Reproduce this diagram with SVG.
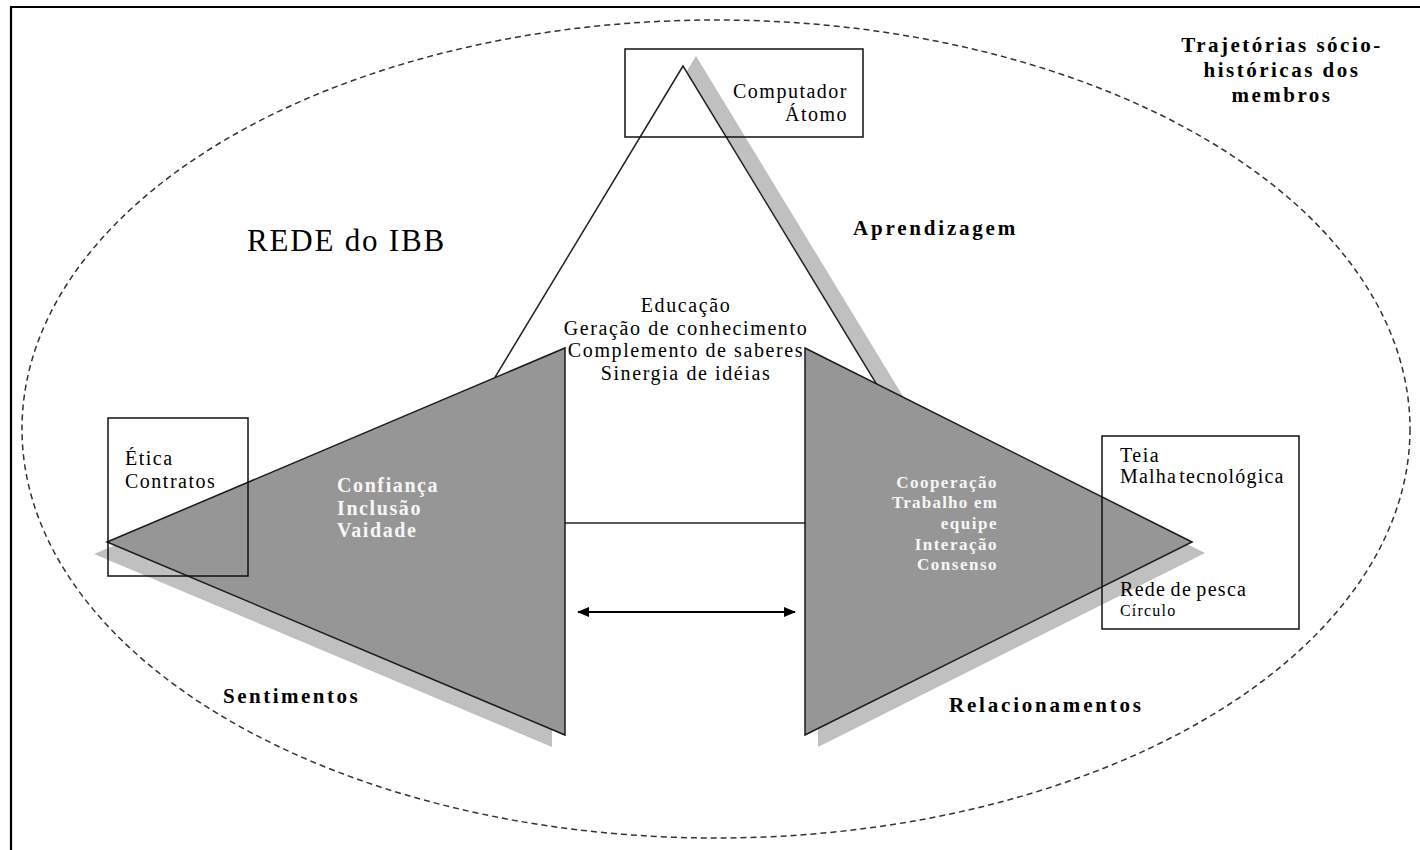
<svg xmlns="http://www.w3.org/2000/svg" width="1420" height="850" viewBox="0 0 1420 850">
<defs>
<style>
.t{font-family:"Liberation Serif","Times New Roman",serif;font-size:20px;letter-spacing:1.5px;fill:#000}
.b{font-family:"Liberation Serif","Times New Roman",serif;font-weight:bold;font-size:21px;letter-spacing:2.8px;fill:#000}
.w{font-family:"Liberation Serif","Times New Roman",serif;font-weight:bold;fill:#f6f6f6}
.box{fill:none;stroke:#111;stroke-width:1.5}
.gray{fill:#969696;stroke:#1a1a1a;stroke-width:1.5;stroke-linejoin:miter}
.shadow{fill:#c0c0c0;stroke:none}
</style>
<marker id="ah" viewBox="0 0 12 10" refX="11" refY="5" markerWidth="12" markerHeight="10" markerUnits="userSpaceOnUse" orient="auto-start-reverse">
<path d="M0,0 L12,5 L0,10 z" fill="#000"/>
</marker>
</defs>
<rect x="0" y="0" width="1420" height="850" fill="#fff"/>
<path id="frame" d="M11,852 V7 H1422" fill="none" stroke="#000" stroke-width="2.2"/>
<ellipse id="boundary" cx="716" cy="429" rx="694" ry="409" fill="none" stroke="#333" stroke-width="1.5" stroke-dasharray="6 4"/>

<g id="learning-triangle">
<polygon class="shadow" points="696,56 420,513 974,513"/>
<polygon points="683,66 407,523 961,523" fill="#fff" stroke="#222" stroke-width="1.5"/>
</g>

<g id="feelings-triangle">
<polygon class="shadow" points="94,554 552,360 552,747"/>
<polygon class="gray" points="107,542 565,348 565,735"/>
</g>

<g id="relations-triangle">
<polygon class="shadow" points="1205,553 818,359 818,747"/>
<polygon class="gray" points="1192,542 805,348 805,735"/>
</g>

<g id="connectors">
<line x1="578" y1="612" x2="795" y2="612" stroke="#000" stroke-width="2" marker-start="url(#ah)" marker-end="url(#ah)"/>
</g>

<g id="computador-box">
<rect class="box" x="625" y="49" width="238" height="88"/>
<text class="t" x="848" y="98" text-anchor="end">Computador</text>
<text class="t" x="848" y="121" text-anchor="end">Átomo</text>
</g>

<g id="etica-box">
<rect class="box" x="108" y="418" width="140" height="158"/>
<text class="t" x="125" y="465">Ética</text>
<text class="t" x="125" y="488">Contratos</text>
</g>

<g id="teia-box">
<rect class="box" x="1102" y="436" width="197" height="193"/>
<text class="t" x="1120" y="462">Teia</text>
<text class="t" x="1120" y="483" style="letter-spacing:1.2px;word-spacing:-4px">Malha tecnológica</text>
<text class="t" x="1120" y="596" style="letter-spacing:1.3px;word-spacing:-2px">Rede de pesca</text>
<text class="t" x="1120" y="616" style="font-size:16px;letter-spacing:1.2px">Círculo</text>
</g>

<g id="learning-items">
<text class="t" x="686" y="312" text-anchor="middle" style="letter-spacing:1.6px">Educação</text>
<text class="t" x="686" y="335" text-anchor="middle" style="letter-spacing:1.6px">Geração de conhecimento</text>
<text class="t" x="686" y="357" text-anchor="middle" style="letter-spacing:1.6px">Complemento de saberes</text>
<text class="t" x="686" y="380" text-anchor="middle" style="letter-spacing:1.6px">Sinergia de idéias</text>
</g>

<g id="feelings-items">
<text class="w" x="337" y="492" style="font-size:20px;letter-spacing:1.6px">Confiança</text>
<text class="w" x="337" y="515" style="font-size:20px;letter-spacing:1.6px">Inclusão</text>
<text class="w" x="337" y="537" style="font-size:20px;letter-spacing:1.6px">Vaidade</text>
</g>

<g id="relations-items">
<text class="w" x="998" y="488" text-anchor="end" style="font-size:17px;letter-spacing:1.5px">Cooperação</text>
<text class="w" x="998" y="508" text-anchor="end" style="font-size:17px;letter-spacing:1.2px">Trabalho em</text>
<text class="w" x="998" y="529" text-anchor="end" style="font-size:17px;letter-spacing:1.5px">equipe</text>
<text class="w" x="998" y="550" text-anchor="end" style="font-size:17px;letter-spacing:1.5px">Interação</text>
<text class="w" x="998" y="570" text-anchor="end" style="font-size:17px;letter-spacing:1.5px">Consenso</text>
</g>

<g id="labels">
<text x="247" y="251" style="font-family:'Liberation Serif','Times New Roman',serif;font-size:31px;letter-spacing:1.8px;fill:#000">REDE do IBB</text>
<text class="b" x="853" y="235">Aprendizagem</text>
<text class="b" x="223" y="703" style="letter-spacing:2.5px">Sentimentos</text>
<text class="b" x="949" y="712">Relacionamentos</text>
<text class="b" x="1282" y="52" text-anchor="middle" style="letter-spacing:2.5px">Trajetórias sócio-</text>
<text class="b" x="1282" y="77" text-anchor="middle" style="letter-spacing:2.5px">históricas dos</text>
<text class="b" x="1282" y="102" text-anchor="middle" style="letter-spacing:2.5px">membros</text>
</g>
</svg>
